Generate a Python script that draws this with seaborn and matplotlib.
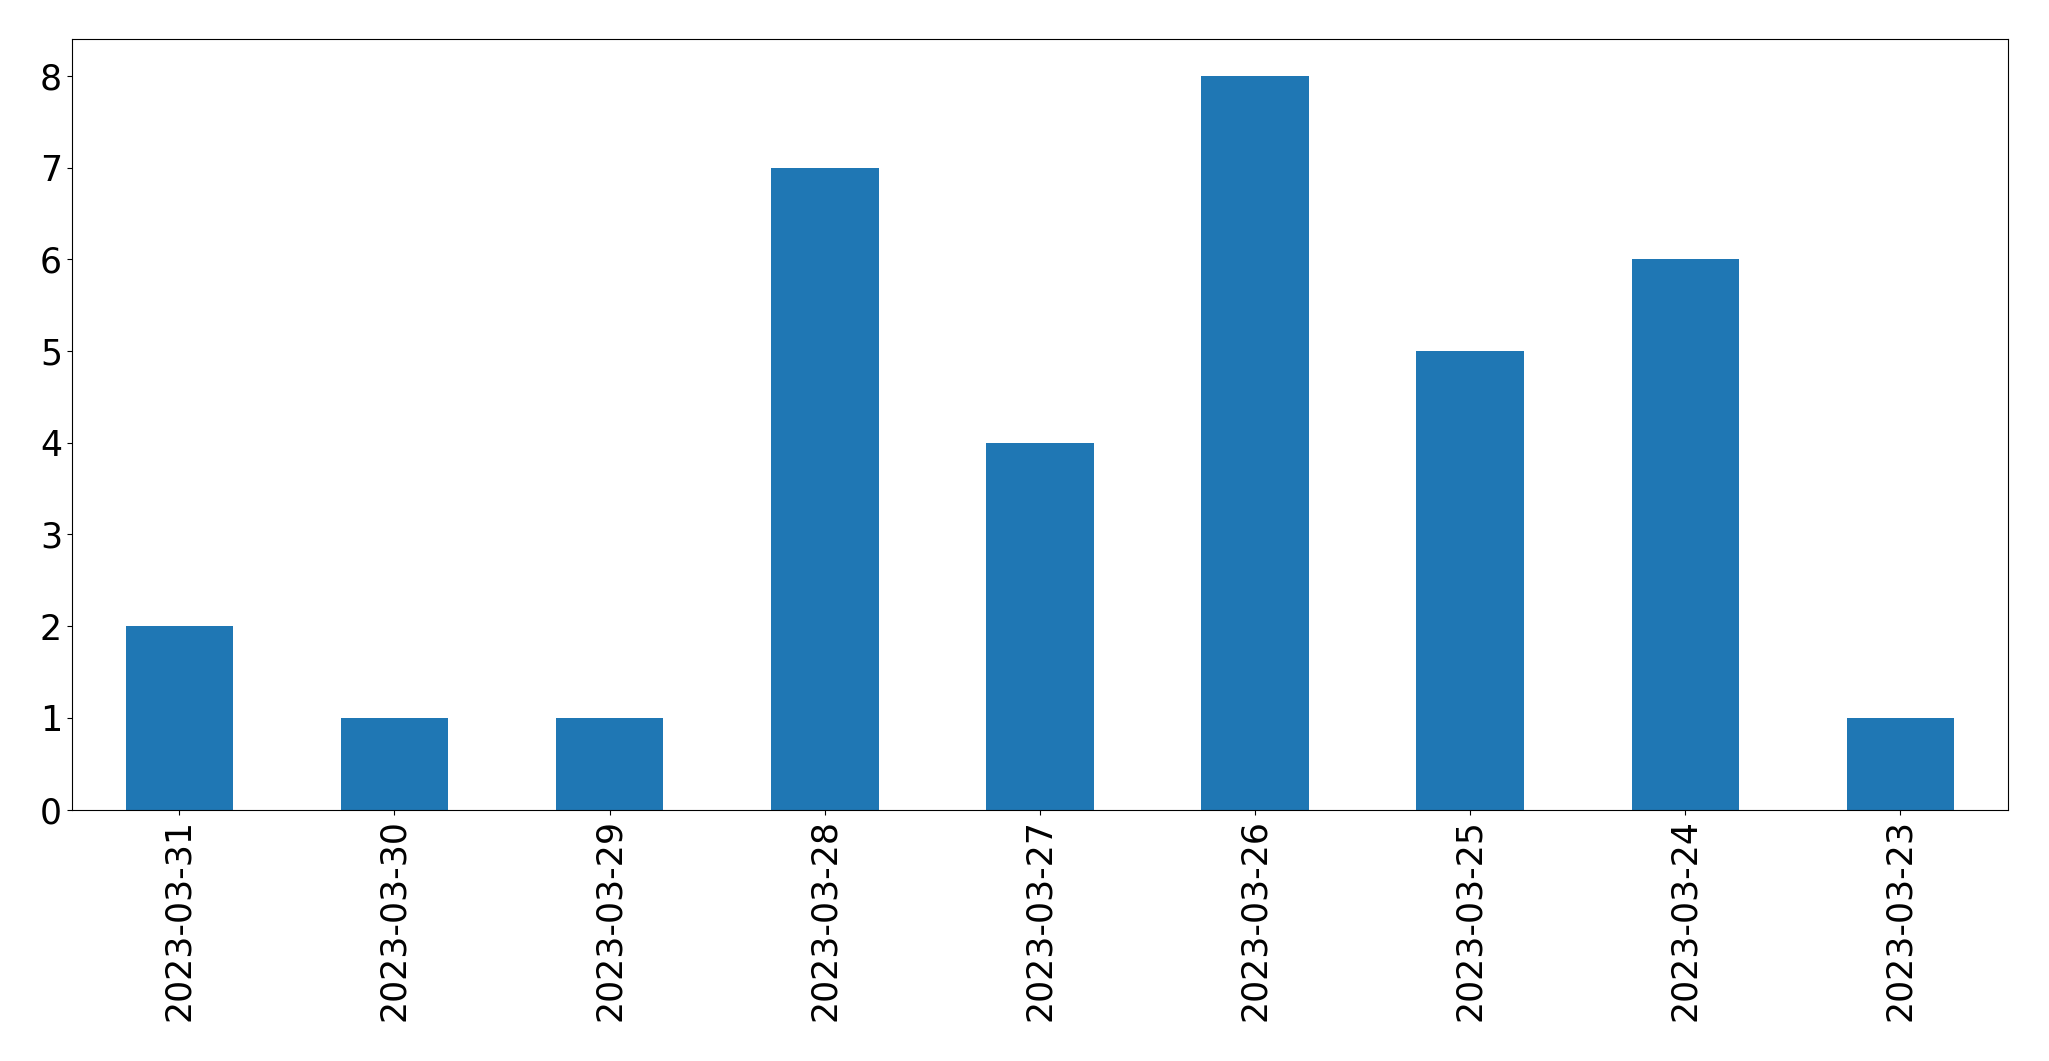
import pandas as pd
import matplotlib.pyplot as plt
import seaborn as sns

dates = ['2023-03-31', '2023-03-30', '2023-03-29', '2023-03-28', '2023-03-27',
         '2023-03-26', '2023-03-25', '2023-03-24', '2023-03-23']
counts = [2, 1, 1, 7, 4, 8, 5, 6, 1]

df = pd.DataFrame({'date': dates, 'count': counts})

fig, ax = plt.subplots(figsize=(20.49, 10.61), dpi=100)
sns.barplot(data=df, x='date', y='count', color='#1f77b4', saturation=1, width=0.5, ax=ax)
ax.set_xlim(-0.5, len(dates) - 0.5)
ax.set_ylim(0, 8.4)
ax.set_xlabel('')
ax.set_ylabel('')
ax.tick_params(axis='both', labelsize=25)
plt.xticks(rotation=90)
plt.subplots_adjust(left=0.035, right=0.98, top=0.963, bottom=0.237)
plt.savefig('out.png')
